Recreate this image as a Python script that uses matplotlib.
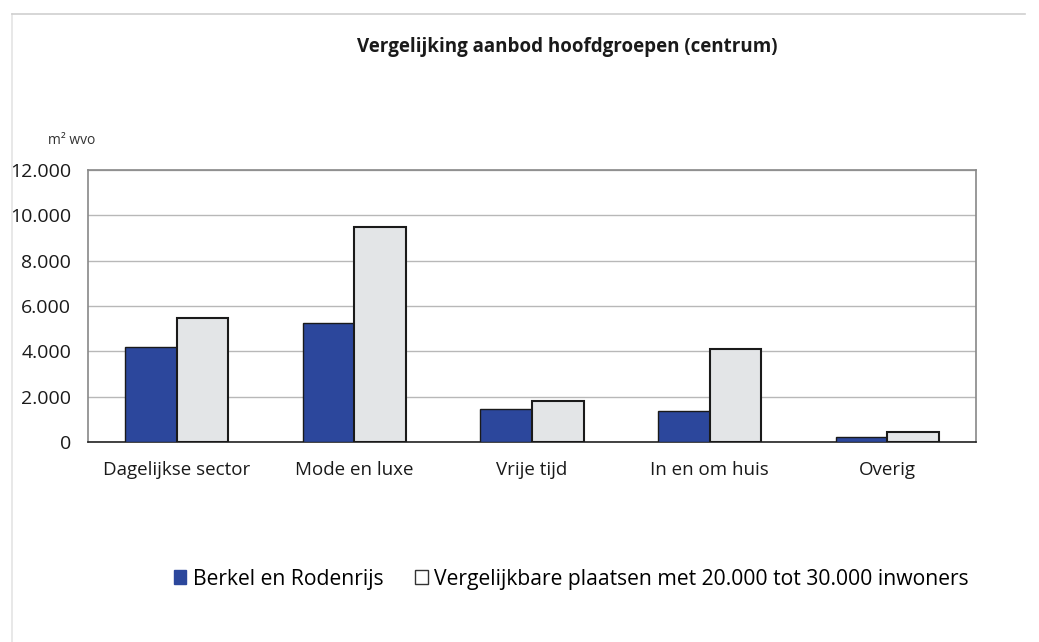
import matplotlib.pyplot as plt
import numpy as np
from matplotlib.patches import Patch
from matplotlib.ticker import FuncFormatter

categories = ["Dagelijkse sector", "Mode en luxe", "Vrije tijd", "In en om huis", "Overig"]
berkel = [4200, 5260, 1440, 1380, 200]
vergelijkbaar = [5450, 9500, 1820, 4090, 430]
series_names = ["Berkel en Rodenrijs", "Vergelijkbare plaatsen met 20.000 tot 30.000 inwoners"]
y_ticks = [0, 2000, 4000, 6000, 8000, 10000, 12000]

plt.rcParams["font.family"] = ["Open Sans", "DejaVu Sans"]

blue = "#2c479c"
light = "#e3e5e7"

fig = plt.figure(figsize=(10.39, 6.42), dpi=100)
ax = fig.add_axes([88 / 1039, 1 - 442 / 642, 888 / 1039, 272 / 642])

x = np.arange(len(categories))
w = 0.29
ax.bar(x - w / 2, berkel, w, color=blue, edgecolor="#1a1a1a", linewidth=1.0, zorder=3)
ax.bar(x + w / 2, vergelijkbaar, w, color=light, edgecolor="#1a1a1a", linewidth=1.5, zorder=3)

ax.set_xlim(-0.5, len(categories) - 0.5)
ax.set_ylim(0, 12000)
ax.set_yticks(y_ticks)
ax.yaxis.set_major_formatter(FuncFormatter(lambda v, p: f"{int(v):,}".replace(",", ".")))
ax.set_xticks(x)
ax.set_xticklabels(categories, fontsize=13.5, color="#1a1a1a")
ax.tick_params(axis="y", labelsize=14, length=0, pad=12, labelcolor="#1a1a1a")
ax.tick_params(axis="x", length=0, pad=14)
ax.grid(axis="y", color="#b8b8b8", linewidth=1.0, zorder=0)
for s in ax.spines.values():
    s.set_color("#888888")
    s.set_linewidth(1.2)
ax.spines["bottom"].set_color("#222222")

fig.text(567 / 1039, 1 - 47 / 642, "Vergelijking aanbod hoofdgroepen (centrum)",
         ha="center", va="center", fontsize=13.5, fontweight="bold", color="#1a1a1a")
fig.text(48 / 1039, 1 - 141 / 642, "m² wvo", ha="left", va="center", fontsize=10, color="#333333")

handles = [Patch(facecolor=blue, edgecolor=blue), Patch(facecolor="white", edgecolor="#333333")]
fig.legend(handles, series_names, loc="center", bbox_to_anchor=(571 / 1039, 1 - 579 / 642),
           ncol=2, frameon=False, fontsize=15.2, handlelength=0.6, handleheight=0.6,
           handletextpad=0.3, columnspacing=1.5, borderpad=0)

# faint frame of the scanned page
fig.add_artist(plt.Line2D([12 / 1039, 12 / 1039], [0, 1 - 14 / 642], color="#e4e4e4", lw=1.2))
fig.add_artist(plt.Line2D([12 / 1039, 1025 / 1039], [1 - 14 / 642, 1 - 14 / 642], color="#cfcfcf", lw=1.2))

fig.savefig("out.png", dpi=100)
